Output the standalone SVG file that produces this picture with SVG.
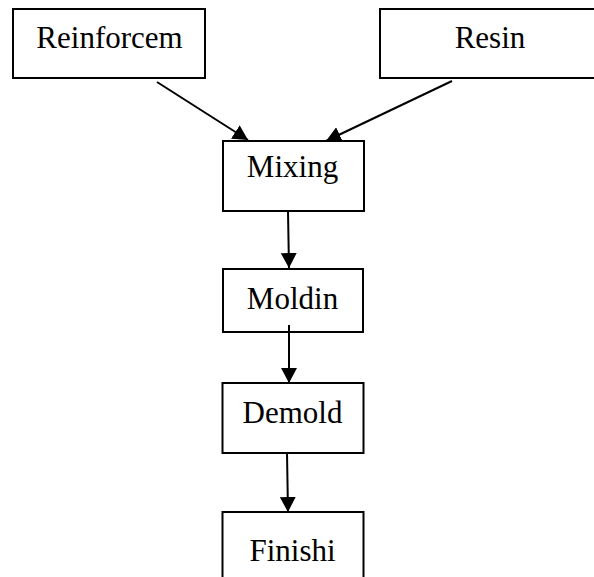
<svg xmlns="http://www.w3.org/2000/svg" width="594" height="577" viewBox="0 0 594 577">
<style>
.box{fill:#fff;stroke:#000;stroke-width:2}
.lbl{font-family:"Liberation Serif","Times New Roman",serif;font-size:31px;fill:#000;text-anchor:middle}
.edge{stroke:#000;stroke-width:2;fill:none}
</style>
<defs>
<marker id="ah" viewBox="0 -8 15 16" refX="15" refY="0" markerWidth="15" markerHeight="16" markerUnits="userSpaceOnUse" orient="auto">
<path d="M0,-8 L15,0 L0,8 Z" fill="#000"/>
</marker>
</defs>
<rect width="594" height="577" fill="#fff"/>
<g id="reinforcem">
<rect class="box" x="13" y="9" width="192" height="69"/>
<text class="lbl" x="109.5" y="48">Reinforcem</text>
</g>
<g id="resin">
<rect class="box" x="380" y="9" width="230" height="69"/>
<text class="lbl" x="490" y="48">Resin</text>
</g>
<g id="mixing">
<rect class="box" x="223" y="141" width="141" height="70"/>
<text class="lbl" x="292.5" y="177">Mixing</text>
</g>
<g id="moldin">
<rect class="box" x="223" y="269" width="140" height="63"/>
<text class="lbl" x="292.5" y="309">Moldin</text>
</g>
<g id="demold">
<rect class="box" x="222.5" y="383" width="141" height="70"/>
<text class="lbl" x="292.5" y="423">Demold</text>
</g>
<g id="finishi">
<rect class="box" x="222.5" y="512" width="141" height="80"/>
<text class="lbl" x="292.5" y="561">Finishi</text>
</g>
<g id="connectors">
<line class="edge" x1="157" y1="82" x2="248" y2="140" marker-end="url(#ah)"/>
<line class="edge" x1="452" y1="81" x2="326" y2="141" marker-end="url(#ah)"/>
<line class="edge" x1="288" y1="211" x2="289" y2="268" marker-end="url(#ah)"/>
<line class="edge" x1="289" y1="325" x2="289" y2="383" marker-end="url(#ah)"/>
<line class="edge" x1="287" y1="453" x2="288" y2="512" marker-end="url(#ah)"/>
</g>
</svg>
